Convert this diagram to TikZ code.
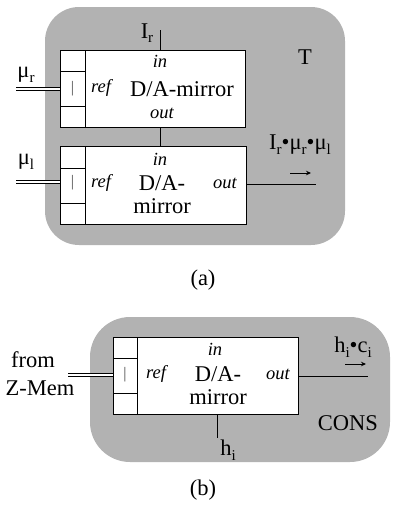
\documentclass[tikz,border=0pt]{standalone}
\usepackage{fontspec}
\setmainfont{Liberation Serif}
\usetikzlibrary{arrows.meta}
\newcommand\lo[1]{\raisebox{-0.45ex}{\fontsize{15}{15}\selectfont #1}}
\begin{document}
\begin{tikzpicture}[x=1pt,y=-1pt,
  every node/.style={font=\fontsize{22.5}{24}\selectfont, inner sep=0pt},
  lbl/.style={font=\fontsize{18.5}{20}\selectfont\itshape},
  bar/.style={font=\fontsize{16}{16}\selectfont, text=black!70},
  dabox/.style={draw, line width=1pt, fill=white, minimum width=185pt, minimum height=77pt},
  bg/.style={fill=black!30, rounded corners=34pt},
  wire/.style={line width=1pt},
  dbl/.style={double, double distance=1.5pt, line width=0.8pt},
  arr/.style={-{Stealth[length=5pt,width=4.5pt]}, line width=0.9pt}]
\useasboundingbox (0,0) rectangle (396,507);
% ---------- (a) ----------
\fill[bg] (45,7) rectangle (345,245);
\node[dabox] (m1) at (152.5,88.5) {};
\node[dabox, minimum width=186pt, minimum height=78pt] (m2) at (153,185) {};
\draw[wire] (85,50) -- (85,127) (60,71) -- (85,71) (60,106) -- (85,106);
\draw[wire] (85,146) -- (85,224) (60,168) -- (85,168) (60,203) -- (85,203);
% texts in upper box
\node[lbl] (in1) at (160,61) {in};
\node[lbl] (ref1) at (101,88) {ref};
\node (t1) at (182,89) {D/A-mirror};
\node[lbl] (out1) at (162,113) {out};
\node[bar] (b1) at (72.5,89) {|};
% texts in lower box
\node[lbl] (in2) at (160,159) {in};
\node[lbl] (ref2) at (101,183) {ref};
\node[align=center, font=\fontsize{22.5}{23}\selectfont] (t2) at (162,195) {D/A-\\mirror};
\node[lbl] (out2) at (225,183) {out};
\node[bar] (b2) at (72.5,183) {|};
% connectors
\coordinate (ir) at (160,30);
\draw[wire] (ir) -- (ir |- m1.north);
\draw[wire] (ir |- m1.south) -- (ir |- m2.north);
\coordinate (mur) at (16,89);
\draw[dbl] (mur) -- (mur -| m1.west);
\coordinate (mul) at (16,182);
\draw[dbl] (mul) -- (mul -| m2.west);
\coordinate (o1) at (316,184);
\draw[wire] (m2.east |- o1) -- (o1);
\coordinate (a1s) at (290,173);
\coordinate (a1e) at (311,173);
\draw[arr] (a1s) -- (a1e);
% labels
\node (irl) at (147,33) {I\lo{r}};
\node (murl) at (26,75) {μ\lo{r}};
\node (mull) at (26,162) {μ\lo{l}};
\node (prod) at (300,145) {I\lo{r}•μ\lo{r}•μ\lo{l}};
\node (T) at (305,57) {T};
\node (capa) at (203,280) {(a)};
% ---------- (b) ----------
\fill[bg, rounded corners=40pt] (90,317) rectangle (390,462);
\node[dabox] (m3) at (205.5,375.5) {};
\draw[wire] (137,337) -- (137,414) (113,358) -- (137,358) (113,393) -- (137,393);
\node[lbl] (in3) at (215,349) {in};
\node[lbl] (ref3) at (156,374) {ref};
\node[align=center, font=\fontsize{22.5}{23}\selectfont] (t3) at (218,386) {D/A-\\mirror};
\node[lbl] (out3) at (278,374) {out};
\node[bar] (b3) at (125,375) {|};
\coordinate (zm) at (68,375);
\draw[dbl] (zm) -- (zm -| m3.west);
\coordinate (o3) at (368,376);
\draw[wire] (m3.east |- o3) -- (o3);
\coordinate (hb) at (217,438);
\draw[wire] (hb |- m3.south) -- (hb);
\coordinate (a3s) at (345,364);
\coordinate (a3e) at (366,364);
\draw[arr] (a3s) -- (a3e);
\node (from) at (33,360) {from};
\node (zmem) at (40,388) {Z-Mem};
\node (hc) at (353,347) {h\lo{i}•c\lo{i}};
\node (hl) at (228,450) {h\lo{i}};
\node (cons) at (348,423) {CONS};
\node (capb) at (203,490) {(b)};
\end{tikzpicture}
\end{document}
